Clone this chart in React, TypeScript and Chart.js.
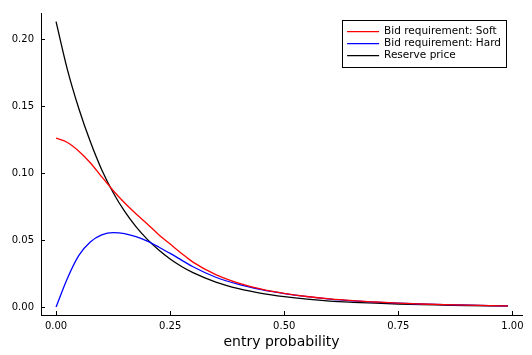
import React, { useEffect, useRef } from "react";
import { Chart, registerables } from "chart.js";

Chart.register(...registerables);

const xValues = [0, 0.025, 0.05, 0.075, 0.1, 0.125, 0.15, 0.175, 0.2, 0.225, 0.25, 0.275, 0.3, 0.35, 0.4, 0.45, 0.5, 0.55, 0.6, 0.65, 0.7, 0.75, 0.8, 0.85, 0.9, 0.95, 0.99];
const softValues = [0.126, 0.1228, 0.1163, 0.1077, 0.0972, 0.087, 0.0778, 0.0696, 0.062, 0.054, 0.047, 0.04, 0.0335, 0.0242, 0.0178, 0.0133, 0.0102, 0.0078, 0.006, 0.0047, 0.0037, 0.0028, 0.0022, 0.0017, 0.0013, 0.001, 0.0008];
const hardValues = [0, 0.0215, 0.0385, 0.0485, 0.0538, 0.0555, 0.0548, 0.0525, 0.0492, 0.0448, 0.04, 0.035, 0.03, 0.0222, 0.0168, 0.0129, 0.01, 0.0077, 0.0059, 0.0046, 0.0036, 0.0028, 0.0022, 0.0017, 0.0013, 0.001, 0.0008];
const reserveValues = [0.213, 0.177, 0.148, 0.1235, 0.1025, 0.0855, 0.0715, 0.06, 0.0505, 0.0425, 0.0358, 0.0302, 0.0256, 0.0186, 0.0137, 0.0102, 0.0077, 0.0058, 0.0044, 0.0035, 0.0028, 0.0022, 0.0017, 0.0014, 0.0011, 0.0009, 0.0008];
const seriesLabels = ["Bid requirement: Soft", "Bid requirement: Hard", "Reserve price"];
const seriesColors = ["#ff0000", "#0000ff", "#000000"];
const xTicks = [0, 0.25, 0.5, 0.75, 1.0];
const yTicks = [0, 0.05, 0.1, 0.15, 0.2];
const xTitle = "entry probability";

const FONT = "'DejaVu Sans', sans-serif";

const innerTicks = {
  id: "innerTicks",
  afterDraw(chart: any) {
    const { ctx, chartArea, scales } = chart;
    ctx.save();
    ctx.strokeStyle = "#000";
    ctx.lineWidth = 1;
    ctx.beginPath();
    for (const v of yTicks) {
      const y = Math.round(scales.y.getPixelForValue(v)) + 0.5;
      ctx.moveTo(chartArea.left, y);
      ctx.lineTo(chartArea.left + 4, y);
    }
    for (const v of xTicks) {
      const x = Math.round(scales.x.getPixelForValue(v)) + 0.5;
      ctx.moveTo(x, chartArea.bottom);
      ctx.lineTo(x, chartArea.bottom - 4);
    }
    ctx.stroke();
    ctx.restore();
  },
};

const boxLegend = {
  id: "boxLegend",
  afterDraw(chart: any) {
    const { ctx, chartArea } = chart;
    ctx.save();
    ctx.font = "10.5px " + FONT;
    const labels = chart.data.datasets.map((d: any) => d.label);
    const colors = chart.data.datasets.map((d: any) => d.borderColor);
    const maxW = Math.max(...labels.map((l: string) => ctx.measureText(l).width));
    const right = chartArea.right - 16;
    const top = 20;
    const width = 5 + 33 + 4 + maxW + 5;
    const rowH = 12;
    const height = 47;
    const left = right - width;
    ctx.fillStyle = "#fff";
    ctx.fillRect(left, top, width, height);
    ctx.strokeStyle = "#000";
    ctx.lineWidth = 1;
    ctx.strokeRect(Math.round(left) + 0.5, Math.round(top) + 0.5, Math.round(width), Math.round(height));
    labels.forEach((l: string, i: number) => {
      const cy = top + 11.7 + i * rowH;
      ctx.strokeStyle = colors[i];
      ctx.lineWidth = 1.3;
      ctx.beginPath();
      ctx.moveTo(left + 5, cy);
      ctx.lineTo(left + 37, cy);
      ctx.stroke();
      ctx.fillStyle = "#000";
      ctx.textBaseline = "middle";
      ctx.textAlign = "left";
      ctx.fillText(l, left + 42, cy);
    });
    ctx.restore();
  },
};

export default function App() {
  const ref = useRef<HTMLCanvasElement>(null);
  useEffect(() => {
    document.body.style.margin = "0";
    const series = [softValues, hardValues, reserveValues];
    const chart = new Chart(ref.current!, {
      type: "line",
      data: {
        datasets: series.map((vals, i) => ({
          label: seriesLabels[i],
          data: xValues.map((x, j) => ({ x, y: vals[j] })),
          borderColor: seriesColors[i],
          backgroundColor: seriesColors[i],
          borderWidth: 1.3,
          pointRadius: 0,
          cubicInterpolationMode: "monotone" as const,
          fill: false,
        })),
      },
      options: {
        animation: false,
        responsive: false,
        layout: { padding: { top: 7, right: 10, left: 0, bottom: 0 } },
        plugins: { legend: { display: false }, tooltip: { enabled: false } },
        scales: {
          x: {
            type: "linear",
            min: -0.033,
            max: 1.021,
            afterBuildTicks: (s: any) => { s.ticks = xTicks.map((v) => ({ value: v })); },
            afterFit: (s: any) => { s.height = 40; },
            grid: { display: false, drawTicks: false },
            border: { display: true, color: "#000", width: 1 },
            ticks: {
              padding: 5,
              color: "#000",
              font: { family: FONT, size: 10 },
              maxRotation: 0,
              callback: (v: any) => Number(v).toFixed(2),
            },
            title: {
              display: true,
              text: xTitle,
              color: "#000",
              font: { family: FONT, size: 14 },
              padding: { top: 0, bottom: 4 },
            },
          },
          y: {
            type: "linear",
            min: -0.006,
            max: 0.2195,
            afterBuildTicks: (s: any) => { s.ticks = yTicks.map((v) => ({ value: v })); },
            afterFit: (s: any) => { s.width = 41; },
            grid: { display: false, drawTicks: false },
            border: { display: true, color: "#000", width: 1 },
            ticks: {
              padding: 7,
              color: "#000",
              font: { family: FONT, size: 10 },
              callback: (v: any) => Number(v).toFixed(2),
            },
          },
        },
      },
      plugins: [innerTicks, boxLegend],
    });
    return () => chart.destroy();
  }, []);
  return (
    <div style={{ width: 532, height: 355 }}>
      <canvas ref={ref} width={532} height={355} />
    </div>
  );
}
